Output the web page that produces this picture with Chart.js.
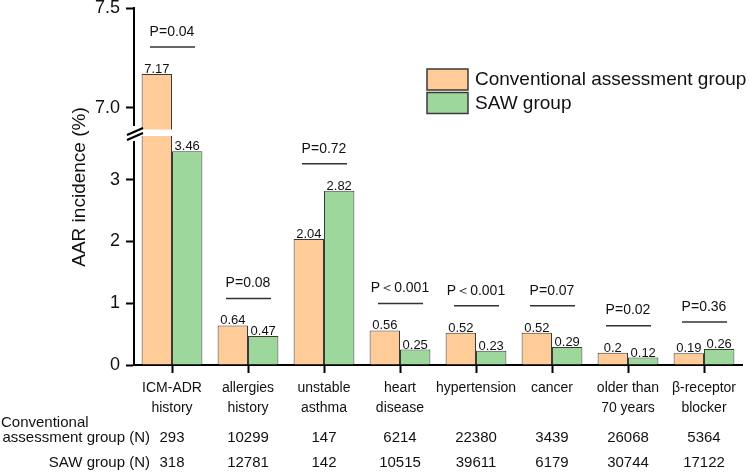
<!DOCTYPE html>
<html lang="en">
<head>
<meta charset="UTF-8">
<title>AAR incidence by risk factor</title>
<script src="https://cdn.jsdelivr.net/npm/chart.js"></script>
<style>
  body { margin: 0; background: #fff; }
  canvas { display: block; }
</style>
</head>
<body>
<canvas id="aarChart" width="749" height="473"></canvas>
<script>
// data
const categories = [['ICM-ADR', 'history'], ['allergies', 'history'], ['unstable', 'asthma'], ['heart', 'disease'],
                    ['hypertension'], ['cancer'], ['older than', '70 years'], ['β-receptor', 'blocker']];
const seriesNames = ['Conventional assessment group', 'SAW group'];
const conventionalValues = [7.17, 0.64, 2.04, 0.56, 0.52, 0.52, 0.2, 0.19];
const sawValues = [3.46, 0.47, 2.82, 0.25, 0.23, 0.29, 0.12, 0.26];
const pLabels = ['P=0.04', 'P=0.08', 'P=0.72', 'P\uFF1C0.001', 'P\uFF1C0.001', 'P=0.07', 'P=0.02', 'P=0.36'];
const conventionalN = [293, 10299, 147, 6214, 22380, 3439, 26068, 5364];
const sawN = [318, 12781, 142, 10515, 39611, 6179, 30744, 17122];
const upperTicks = [7.0, 7.5];
const lowerTicks = [0, 1, 2, 3];

const FONT = '"Liberation Sans", Arial, Helvetica, sans-serif';
const colors = ['#FFCC99', '#9DD79B'];
const edge = '#3a3a3a';
const lowerMax = 3.77;
const upperMin = 6.88;

function barSet(i, data, axis) {
    return {
        label: seriesNames[i],
        data: data,
        yAxisID: axis,
        stack: i === 0 ? 'conv' : 'saw',
        backgroundColor: colors[i],
        borderColor: edge,
        borderWidth: 1,
        categoryPercentage: 0.8,
        barPercentage: 1.0
    };
}

// keep each copy of the bars inside its own part of the broken axis
const sectionClip = {
    id: 'sectionClip',
    beforeDatasetDraw(chart, args) {
        const ys = chart.scales[args.meta.yAxisID];
        const a = chart.chartArea;
        chart.ctx.save();
        chart.ctx.beginPath();
        chart.ctx.rect(a.left, ys.top, a.right - a.left + 2, ys.bottom - ys.top);
        chart.ctx.clip();
    },
    afterDatasetDraw(chart) {
        chart.ctx.restore();
    }
};

const extras = {
    id: 'extras',
    afterDraw(chart) {
        const ctx = chart.ctx;
        const x = chart.scales.x, yLow = chart.scales.yLow, yUp = chart.scales.yUp;
        const a = chart.chartArea;
        const cut = yLow.top;

        // axis break
        ctx.save();
        ctx.fillStyle = '#fff';
        ctx.fillRect(a.left + 1, cut - 2.5, a.right - a.left, 6.5);
        ctx.fillRect(a.left - 4, cut - 6, 8, 15);
        ctx.strokeStyle = '#000';
        ctx.lineWidth = 2.2;
        ctx.beginPath();
        ctx.moveTo(a.left - 7, cut + 8); ctx.lineTo(a.left + 9, cut + 1);
        ctx.moveTo(a.left - 7, cut + 3); ctx.lineTo(a.left + 9, cut - 4);
        ctx.stroke();
        ctx.restore();

        const pix = v => (v > lowerMax ? yUp : yLow).getPixelForValue(v);
        const metaC = chart.getDatasetMeta(0), metaS = chart.getDatasetMeta(1);

        ctx.save();
        ctx.fillStyle = '#111';
        ctx.textAlign = 'center';
        ctx.textBaseline = 'alphabetic';
        ctx.font = '13px ' + FONT;
        categories.forEach((c, i) => {
            ctx.fillText(String(conventionalValues[i]), metaC.data[i].x, pix(conventionalValues[i]) - 1);
            ctx.fillText(String(sawValues[i]), metaS.data[i].x, pix(sawValues[i]) - 1);
        });

        // significance brackets
        ctx.font = '14px ' + FONT;
        ctx.textBaseline = 'middle';
        ctx.strokeStyle = '#333';
        ctx.lineWidth = 1.5;
        categories.forEach((c, i) => {
            const cx = x.getPixelForValue(i);
            const top = Math.min(pix(conventionalValues[i]), pix(sawValues[i]));
            const ly = top - 27;
            ctx.beginPath();
            ctx.moveTo(cx - 22, ly);
            ctx.lineTo(cx + 23, ly);
            ctx.stroke();
            ctx.fillText(pLabels[i], cx, ly - 15);
        });

        // N rows under the categories
        ctx.font = '15px ' + FONT;
        categories.forEach((c, i) => {
            const cx = x.getPixelForValue(i);
            ctx.fillText(String(conventionalN[i]), cx, 438);
            ctx.fillText(String(sawN[i]), cx, 463);
        });
        ctx.textAlign = 'left';
        ctx.fillText('Conventional', 1, 423);
        ctx.textAlign = 'right';
        ctx.fillText('assessment group (N)', 150, 438);
        ctx.fillText('SAW group (N)', 150, 463);

        // y title
        ctx.save();
        ctx.translate(80, 187);
        ctx.rotate(-Math.PI / 2);
        ctx.textAlign = 'center';
        ctx.font = '19px ' + FONT;
        ctx.fillText('AAR incidence (%)', 0, 0);
        ctx.restore();

        // legend
        ctx.font = '19px ' + FONT;
        ctx.textAlign = 'left';
        seriesNames.forEach((name, i) => {
            const by = 69 + i * 23.5;
            ctx.fillStyle = colors[i];
            ctx.fillRect(427, by, 41, 21);
            ctx.strokeStyle = edge;
            ctx.lineWidth = 1.5;
            ctx.strokeRect(427, by, 41, 21);
            ctx.fillStyle = '#111';
            ctx.fillText(name, 475, by + 11);
        });
        ctx.restore();
    }
};

const axisLook = {
    grid: { drawOnChartArea: false, drawTicks: true, tickLength: 8, tickWidth: 2, tickColor: '#000' },
    border: { color: '#000', width: 2 }
};

new Chart(document.getElementById('aarChart'), {
    type: 'bar',
    data: {
        labels: categories,
        datasets: [
            barSet(0, conventionalValues, 'yLow'),
            barSet(1, sawValues, 'yLow'),
            barSet(0, conventionalValues, 'yUp'),
            barSet(1, sawValues, 'yUp')
        ]
    },
    options: {
        responsive: false,
        animation: false,
        layout: { padding: { top: 8, right: 7, left: 0, bottom: 0 } },
        plugins: { legend: { display: false }, tooltip: { enabled: false } },
        scales: {
            x: {
                offset: true,
                grid: { ...axisLook.grid, offset: false },
                border: axisLook.border,
                ticks: { color: '#111', padding: 5, maxRotation: 0, autoSkip: false,
                         font: { family: FONT, size: 14, lineHeight: 1.43 } },
                afterFit(s) { s.height = 108; }
            },
            yLow: {
                position: 'left',
                stack: 'y',
                stackWeight: 233,
                stacked: false,
                min: 0,
                max: lowerMax,
                ...axisLook,
                ticks: { color: '#111', padding: 6, font: { family: FONT, size: 18 }, callback: v => String(v) },
                afterBuildTicks(s) { s.ticks = lowerTicks.map(v => ({ value: v })); },
                afterFit(s) { s.width = 134; s.paddingTop = 0; s.paddingBottom = 0; }
            },
            yUp: {
                position: 'left',
                stack: 'y',
                stackWeight: 124,
                stacked: false,
                min: upperMin,
                max: 7.5,
                ...axisLook,
                ticks: { color: '#111', padding: 6, font: { family: FONT, size: 18 }, callback: v => Number(v).toFixed(1) },
                afterBuildTicks(s) { s.ticks = upperTicks.map(v => ({ value: v })); },
                afterFit(s) { s.width = 134; s.paddingTop = 0; s.paddingBottom = 0; }
            }
        }
    },
    plugins: [sectionClip, extras]
});
</script>
</body>
</html>
